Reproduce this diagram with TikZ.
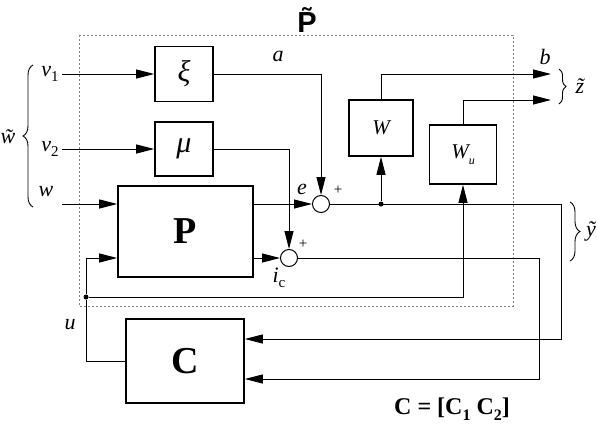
\documentclass[tikz,border=0pt]{standalone}
\usepackage{fontspec}
\setmainfont{Liberation Serif}
\setsansfont{Liberation Sans}
\usetikzlibrary{arrows.meta,decorations.pathreplacing}
\begin{document}
\begin{tikzpicture}[x=1pt,y=-1pt,
  blk/.style={draw,line width=1.6pt,inner sep=0pt},
  sumc/.style={draw,circle,line width=1pt,minimum size=17pt,inner sep=0pt},
  sig/.style={line width=1pt},
  arr/.style={sig,-{Triangle[length=18pt,width=9pt]}},
  lbl/.style={font=\fontsize{22}{22}\selectfont\itshape,inner sep=0pt},
  pls/.style={font=\fontsize{15}{15}\selectfont,inner sep=0pt},
  jdot/.style={circle,fill,inner sep=0pt,minimum size=5pt},
  brc/.style={decorate,decoration={brace,amplitude=#1},line width=0.9pt},
  frame/.style={draw=gray,line width=0.7pt,dash pattern=on 2pt off 2pt}]
\useasboundingbox (0,0) rectangle (597,426);
\draw[frame] (79,35) rectangle (513,306);
\node[font=\fontsize{29}{29}\selectfont\sffamily\bfseries,inner sep=0pt] (Pt) at (307,20) {\~{P}};

\node[blk,minimum width=58pt,minimum height=55pt,font=\fontsize{30}{30}\selectfont\itshape] (xi) at (184,74) {ξ};
\node[blk,minimum width=58pt,minimum height=54pt,font=\fontsize{30}{30}\selectfont\itshape] (mu) at (184,149) {μ};
\node[blk,minimum width=135pt,minimum height=91pt,font=\fontsize{38}{38}\selectfont\bfseries] (P) at (185.5,231.5) {P};
\node[blk,minimum width=64pt,minimum height=56pt,font=\fontsize{21}{21}\selectfont\itshape] (W) at (381,128) {W};
\node[blk,minimum width=67pt,minimum height=59pt,font=\fontsize{21}{21}\selectfont\itshape] (Wu) at (463,154.5) {W\raisebox{-0.3em}{\fontsize{12}{12}\selectfont u}};
\node[blk,minimum width=118pt,minimum height=84pt,font=\fontsize{38}{38}\selectfont\bfseries] (C) at (185,361) {C};
\node[sumc] (s1) at (321,204) {};
\node[sumc] (s2) at (289,258) {};
\node[jdot] (j1) at (381,204) {};
\node[jdot] (j2) at (86,297) {};

\coordinate (v1in) at (62,74);
\coordinate (v2in) at (62,149);
\coordinate (win) at (62,204);
\coordinate (bout) at (551,74);
\coordinate (zout) at (551,100);
\coordinate (r1) at (561,339);
\coordinate (r2) at (539,379);

\draw[arr] (v1in) -- (xi.west);
\draw[arr] (v2in) -- (mu.west);
\draw[arr] (win) -- (P.west |- win);
\draw[arr] (xi.east) -| (s1.north);
\draw[arr] (mu.east) -| (s2.north);
\draw[arr] (P.east |- s1) -- (s1.west);
\draw[arr] (P.east |- s2) -- (s2.west);
\draw[arr] (j1) -- (W.south);
\draw[arr] (W.north) |- (bout);
\draw[arr] (Wu.north) |- (zout);
\draw[arr] (s1.east) -- (r1 |- s1) -- (r1) -- (C.east |- r1);
\draw[arr] (s2.east) -- (r2 |- s2) -- (r2) -- (C.east |- r2);
\draw[arr] (C.west) -| (j2) |- (P.west |- s2);
\draw[arr] (j2) -| (Wu.south);

\node[lbl] (lv1) at (50,74) {v\raisebox{-0.25em}{\upshape\fontsize{15}{15}\selectfont 1}};
\node[lbl] (lv2) at (50,149) {v\raisebox{-0.25em}{\upshape\fontsize{15}{15}\selectfont 2}};
\node[lbl] (lw) at (46,192) {w};
\node[lbl] (la) at (278,56) {a};
\node[lbl] (lb) at (545,57) {b};
\node[lbl] (le) at (302,189) {e};
\node[pls] (p1) at (338,190) {+};
\node[pls] (p2) at (303,244) {+};
\node[lbl] (lic) at (279,278) {i\raisebox{-0.25em}{\upshape\fontsize{15}{15}\selectfont c}};
\node[lbl] (lu) at (70,325) {u};

\draw[brc=10pt] (33,207) -- (33,65);
\node[lbl] (lwt) at (8,137) {\~{w}};
\draw[brc=7pt] (559,69) -- (559,104);
\node[lbl] (lzt) at (580,86) {\~{z}};
\draw[brc=10pt] (570,202) -- (570,261);
\node[lbl,anchor=west] (lyt) at (586,231) {\~{y}};

\node[font=\fontsize{24}{24}\selectfont\bfseries,inner sep=0pt] (Ceq) at (452,409) {C = [C\raisebox{-0.25em}{\fontsize{16}{16}\selectfont 1} C\raisebox{-0.25em}{\fontsize{16}{16}\selectfont 2}]};
\end{tikzpicture}
\end{document}
